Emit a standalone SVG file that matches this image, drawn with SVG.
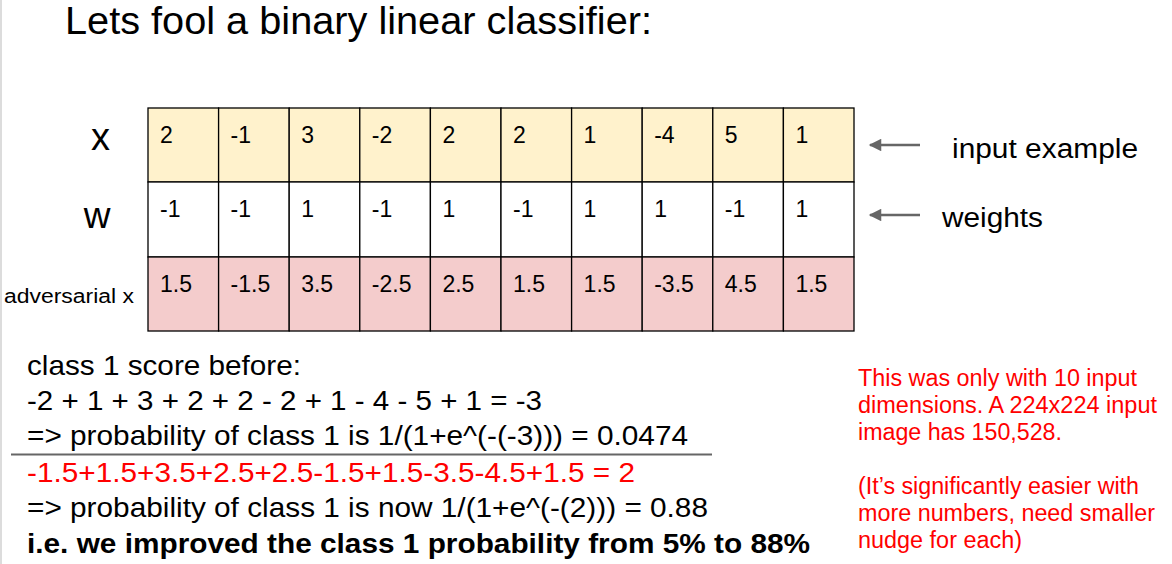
<svg xmlns="http://www.w3.org/2000/svg" width="1172" height="564" viewBox="0 0 1172 564">
<defs>
<style>
text{font-family:"Liberation Sans",Arial,sans-serif;fill:#000}
.c{font-size:23px}
.b{font-size:27.5px}
.r{fill:#ff0000}
.n{font-size:23px;fill:#ff0000}
.y{fill:#fff2cc}
.p{fill:#f4cccc}
.w{fill:#ffffff}
.cell rect{stroke:#000;stroke-width:1.3}
.arr{stroke:#666;stroke-width:2.5;fill:none}
</style>
<marker id="ah" viewBox="0 0 10 10" refX="9" refY="5" markerWidth="6" markerHeight="5" markerUnits="strokeWidth" orient="auto">
<path d="M0,0 L10,5 L0,10 Z" fill="#666"/>
</marker>
</defs>
<rect x="0" y="0" width="1172" height="564" fill="#ffffff"/>
<line x1="1" y1="0" x2="1" y2="564" stroke="#dcdcdc" stroke-width="2"/>

<g id="title"><text x="65" y="34" font-size="38" textLength="587" lengthAdjust="spacingAndGlyphs">Lets fool a binary linear classifier:</text></g>

<g id="row-labels">
<text x="100.5" y="150" font-size="38" text-anchor="middle">x</text>
<text x="97" y="228" font-size="37" text-anchor="middle">w</text>
<text x="4" y="303" font-size="20" textLength="130" lengthAdjust="spacingAndGlyphs">adversarial x</text>
</g>

<g id="row-x" class="cell">
<rect class="y" x="148" y="108" width="70.6" height="74"/>
<rect class="y" x="218.6" y="108" width="70.6" height="74"/>
<rect class="y" x="289.2" y="108" width="70.6" height="74"/>
<rect class="y" x="359.8" y="108" width="70.6" height="74"/>
<rect class="y" x="430.4" y="108" width="70.6" height="74"/>
<rect class="y" x="501" y="108" width="70.6" height="74"/>
<rect class="y" x="571.6" y="108" width="70.6" height="74"/>
<rect class="y" x="642.2" y="108" width="70.6" height="74"/>
<rect class="y" x="712.8" y="108" width="70.6" height="74"/>
<rect class="y" x="783.4" y="108" width="70.6" height="74"/>
<text class="c" x="160" y="143">2</text>
<text class="c" x="230.6" y="143">-1</text>
<text class="c" x="301.2" y="143">3</text>
<text class="c" x="371.8" y="143">-2</text>
<text class="c" x="442.4" y="143">2</text>
<text class="c" x="513" y="143">2</text>
<text class="c" x="583.6" y="143">1</text>
<text class="c" x="654.2" y="143">-4</text>
<text class="c" x="724.8" y="143">5</text>
<text class="c" x="795.4" y="143">1</text>
</g>

<g id="row-w" class="cell">
<rect class="w" x="148" y="182" width="70.6" height="75"/>
<rect class="w" x="218.6" y="182" width="70.6" height="75"/>
<rect class="w" x="289.2" y="182" width="70.6" height="75"/>
<rect class="w" x="359.8" y="182" width="70.6" height="75"/>
<rect class="w" x="430.4" y="182" width="70.6" height="75"/>
<rect class="w" x="501" y="182" width="70.6" height="75"/>
<rect class="w" x="571.6" y="182" width="70.6" height="75"/>
<rect class="w" x="642.2" y="182" width="70.6" height="75"/>
<rect class="w" x="712.8" y="182" width="70.6" height="75"/>
<rect class="w" x="783.4" y="182" width="70.6" height="75"/>
<text class="c" x="160" y="217">-1</text>
<text class="c" x="230.6" y="217">-1</text>
<text class="c" x="301.2" y="217">1</text>
<text class="c" x="371.8" y="217">-1</text>
<text class="c" x="442.4" y="217">1</text>
<text class="c" x="513" y="217">-1</text>
<text class="c" x="583.6" y="217">1</text>
<text class="c" x="654.2" y="217">1</text>
<text class="c" x="724.8" y="217">-1</text>
<text class="c" x="795.4" y="217">1</text>
</g>

<g id="row-adv" class="cell">
<rect class="p" x="148" y="257" width="70.6" height="74"/>
<rect class="p" x="218.6" y="257" width="70.6" height="74"/>
<rect class="p" x="289.2" y="257" width="70.6" height="74"/>
<rect class="p" x="359.8" y="257" width="70.6" height="74"/>
<rect class="p" x="430.4" y="257" width="70.6" height="74"/>
<rect class="p" x="501" y="257" width="70.6" height="74"/>
<rect class="p" x="571.6" y="257" width="70.6" height="74"/>
<rect class="p" x="642.2" y="257" width="70.6" height="74"/>
<rect class="p" x="712.8" y="257" width="70.6" height="74"/>
<rect class="p" x="783.4" y="257" width="70.6" height="74"/>
<text class="c" x="160" y="292">1.5</text>
<text class="c" x="230.6" y="292">-1.5</text>
<text class="c" x="301.2" y="292">3.5</text>
<text class="c" x="371.8" y="292">-2.5</text>
<text class="c" x="442.4" y="292">2.5</text>
<text class="c" x="513" y="292">1.5</text>
<text class="c" x="583.6" y="292">1.5</text>
<text class="c" x="654.2" y="292">-3.5</text>
<text class="c" x="724.8" y="292">4.5</text>
<text class="c" x="795.4" y="292">1.5</text>
</g>

<g id="connectors">
<line class="arr" x1="920" y1="145" x2="870" y2="145" marker-end="url(#ah)"/>
<line class="arr" x1="920" y1="215" x2="870" y2="215" marker-end="url(#ah)"/>
</g>

<g id="side-labels">
<text x="952" y="158" font-size="27" textLength="186" lengthAdjust="spacingAndGlyphs">input example</text>
<text x="942" y="227" font-size="27" textLength="101" lengthAdjust="spacingAndGlyphs">weights</text>
</g>

<g id="calc">
<text class="b" x="27" y="375" textLength="274" lengthAdjust="spacingAndGlyphs">class 1 score before:</text>
<text class="b" x="27" y="410" textLength="515" lengthAdjust="spacingAndGlyphs">-2 + 1 + 3 + 2 + 2 - 2 + 1 - 4 - 5 + 1 = -3</text>
<text class="b" x="27" y="445" textLength="661" lengthAdjust="spacingAndGlyphs">=&gt; probability of class 1 is 1/(1+e^(-(-3))) = 0.0474</text>
<line x1="11" y1="454.5" x2="712" y2="454.5" stroke="#666" stroke-width="2"/>
<text class="b r" x="27" y="482" textLength="608" lengthAdjust="spacingAndGlyphs">-1.5+1.5+3.5+2.5+2.5-1.5+1.5-3.5-4.5+1.5 = 2</text>
<text class="b" x="27" y="517" textLength="681" lengthAdjust="spacingAndGlyphs">=&gt; probability of class 1 is now 1/(1+e^(-(2))) = 0.88</text>
<text class="b" x="27" y="553" font-weight="bold" textLength="783" lengthAdjust="spacingAndGlyphs">i.e. we improved the class 1 probability from 5% to 88%</text>
</g>

<g id="note">
<text class="n" x="858" y="386" textLength="279" lengthAdjust="spacingAndGlyphs">This was only with 10 input</text>
<text class="n" x="858" y="413" textLength="299" lengthAdjust="spacingAndGlyphs">dimensions. A 224x224 input</text>
<text class="n" x="858" y="440" textLength="204" lengthAdjust="spacingAndGlyphs">image has 150,528.</text>
<text class="n" x="858" y="494" textLength="281" lengthAdjust="spacingAndGlyphs">(It’s significantly easier with</text>
<text class="n" x="858" y="521" textLength="297" lengthAdjust="spacingAndGlyphs">more numbers, need smaller</text>
<text class="n" x="858" y="548" textLength="164" lengthAdjust="spacingAndGlyphs">nudge for each)</text>
</g>
</svg>
